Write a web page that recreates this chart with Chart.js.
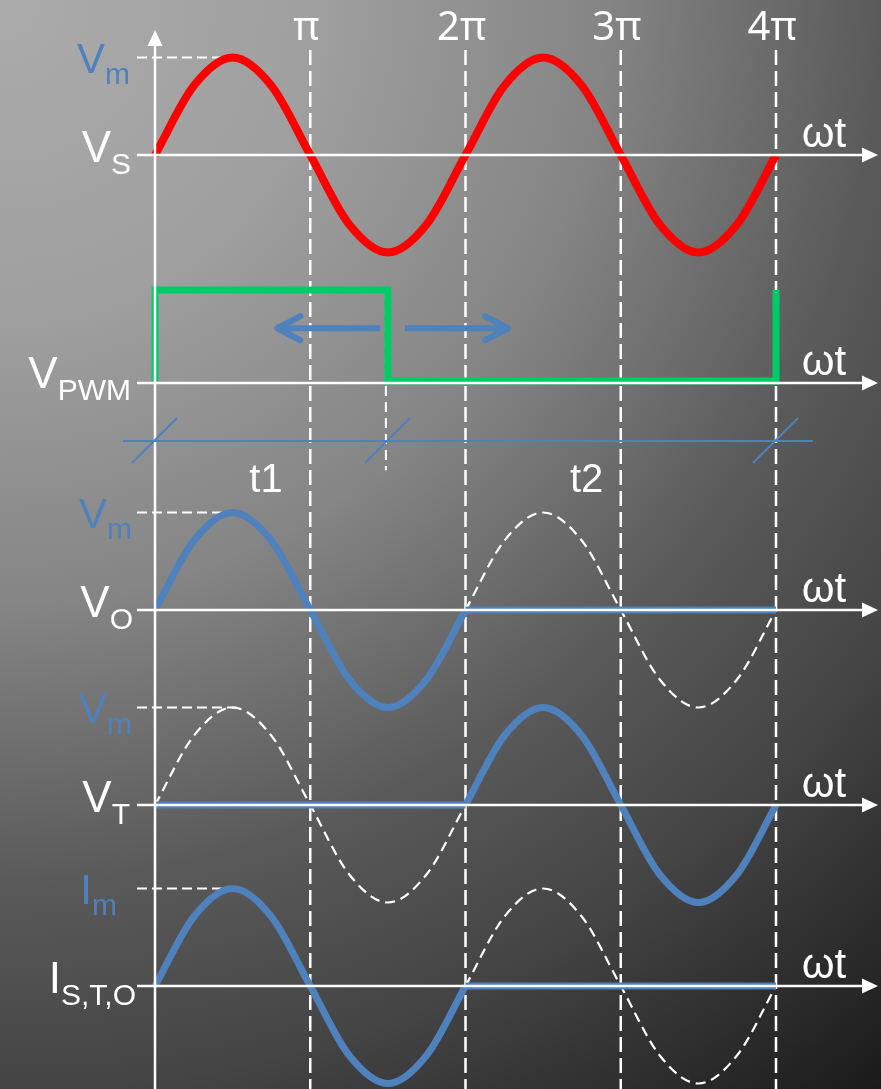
<!DOCTYPE html>
<html>
<head>
<meta charset="utf-8">
<style>
  html, body { margin: 0; padding: 0; background: #333; }
  canvas { display: block; }
</style>
<script src="https://cdn.jsdelivr.net/npm/chart.js@4.4.1/dist/chart.umd.min.js"></script>
</head>
<body>
<canvas id="chart" width="881" height="1089"></canvas>
<script>
// angle ωt, in units of π
const phase = [0, 0.25, 0.5, 0.75, 1, 1.25, 1.5, 1.75, 2, 2.25, 2.5, 2.75, 3, 3.25, 3.5, 3.75, 4];

// waveforms, normalised to the peak value (Vm / Im = 1)
const vSupply   = [0, 0.71, 1, 0.71, 0, -0.71, -1, -0.71, 0, 0.71, 1, 0.71, 0, -0.71, -1, -0.71, 0];
const vOutOn    = [0, 0.71, 1, 0.71, 0, -0.71, -1, -0.71, 0, null, null, null, null, null, null, null, null];
const vOutOff   = [null, null, null, null, null, null, null, null, 0, 0, 0, 0, 0, 0, 0, 0, 0];
const vOutGhost = [null, null, null, null, null, null, null, null, 0, 0.71, 1, 0.71, 0, -0.71, -1, -0.71, 0];
const vThyOff   = [0, 0, 0, 0, 0, 0, 0, 0, 0, null, null, null, null, null, null, null, null];
const vThyOn    = [null, null, null, null, null, null, null, null, 0, 0.71, 1, 0.71, 0, -0.71, -1, -0.71, 0];
const vThyGhost = [0, 0.71, 1, 0.71, 0, -0.71, -1, -0.71, 0, null, null, null, null, null, null, null, null];
const iOn       = [0, 0.71, 1, 0.71, 0, -0.71, -1, -0.71, 0, null, null, null, null, null, null, null, null];
const iOff      = [null, null, null, null, null, null, null, null, 0, 0, 0, 0, 0, 0, 0, 0, 0];
const iGhost    = [null, null, null, null, null, null, null, null, 0, 0.71, 1, 0.71, 0, -0.71, -1, -0.71, 0];

// PWM gate signal
const pwmPhase = [0, 0, 1.5, 1.5, 4, 4];
const pwmLevel = [0, 1, 1, 0, 0, 1];

// peak guide (dashed Vm / Im line)
const guidePhase = [-0.116, 0.56];
const guideLevel = [1, 1];

// x tick labels and timing marks
const piTicks  = [1, 2, 3, 4];
const piLabels = ['π', '2π', '3π', '4π'];
const tMarks   = [0, 1.5, 4];
const tLabels  = ['t1', 't2'];
const tLabelAt = [0.715, 2.78];

const BLUE = '#4f81bd';
const WHITE = '#ffffff';
const FONT = '"Liberation Sans", Arial, sans-serif';

// panel layout: baseline pixel and pixels per unit
const panels = {
  ys: { base: 155, unit: 97.5 },
  yp: { base: 381, unit: 91 },
  yo: { base: 610, unit: 97.5 },
  yt: { base: 805, unit: 97.5 },
  yi: { base: 986, unit: 97.5 }
};
const H = 1089, W = 881, X0 = 155, PX_PER_PI = 155.25;

function pts(xs, ys) {
  return xs.map((x, i) => ({ x: x, y: ys[i] })).filter(p => p.y !== null);
}

function wave(ys, axis, color, width) {
  return {
    data: pts(phase, ys), yAxisID: axis, borderColor: color, borderWidth: width,
    cubicInterpolationMode: 'monotone', pointRadius: 0, fill: false
  };
}
function flat(ys, axis) {
  return { data: pts(phase, ys), yAxisID: axis, borderColor: BLUE, borderWidth: 7, pointRadius: 0, fill: false };
}
function ghost(ys, axis) {
  return {
    data: pts(phase, ys), yAxisID: axis, borderColor: WHITE, borderWidth: 2.2, borderDash: [10, 6],
    cubicInterpolationMode: 'monotone', pointRadius: 0, fill: false
  };
}
function guide(axis) {
  return {
    data: pts(guidePhase, guideLevel), yAxisID: axis, borderColor: WHITE, borderWidth: 2.2,
    borderDash: [10, 5], pointRadius: 0, fill: false
  };
}

const datasets = [
  wave(vSupply, 'ys', '#ff0000', 8),
  {
    data: pts(pwmPhase, pwmLevel), yAxisID: 'yp', borderColor: '#00cc66', borderWidth: 7,
    borderJoinStyle: 'miter', pointRadius: 0, fill: false
  },
  wave(vOutOn, 'yo', BLUE, 7), flat(vOutOff, 'yo'),
  wave(vThyOn, 'yt', BLUE, 7), flat(vThyOff, 'yt'),
  wave(iOn, 'yi', BLUE, 7), flat(iOff, 'yi'),
  ghost(vOutGhost, 'yo'), ghost(vThyGhost, 'yt'), ghost(iGhost, 'yi'),
  guide('ys'), guide('yo'), guide('yt'), guide('yi')
];

const scales = {
  x: { type: 'linear', display: false, min: -X0 / PX_PER_PI, max: (W - X0) / PX_PER_PI }
};
Object.keys(panels).forEach(id => {
  const p = panels[id];
  scales[id] = { type: 'linear', axis: 'y', display: false, min: -(H - p.base) / p.unit, max: p.base / p.unit };
});

function seg(ctx, x0, y0, x1, y1) {
  ctx.beginPath(); ctx.moveTo(x0, y0); ctx.lineTo(x1, y1); ctx.stroke();
}

function label(ctx, main, sub, right, baseMain, baseSub, mainSize, subSize, color) {
  ctx.fillStyle = color;
  ctx.textAlign = 'left';
  ctx.font = subSize + 'px ' + FONT;
  const subW = ctx.measureText(sub).width;
  ctx.font = mainSize + 'px ' + FONT;
  const mainW = ctx.measureText(main).width;
  ctx.fillText(main, right - subW - mainW, baseMain);
  ctx.font = subSize + 'px ' + FONT;
  ctx.fillText(sub, right - subW, baseSub);
}

const axisLabels = [
  { axis: 'ys', main: 'V', sub: 'S', right: 131 },
  { axis: 'yp', main: 'V', sub: 'PWM', right: 131 },
  { axis: 'yo', main: 'V', sub: 'O', right: 133 },
  { axis: 'yt', main: 'V', sub: 'T', right: 130 },
  { axis: 'yi', main: 'I', sub: 'S,T,O', right: 136 }
];
const peakLabels = [
  { axis: 'ys', main: 'V', sub: 'm', right: 130 },
  { axis: 'yo', main: 'V', sub: 'm', right: 132 },
  { axis: 'yt', main: 'V', sub: 'm', right: 132 },
  { axis: 'yi', main: 'I', sub: 'm', right: 117 }
];

const diagram = {
  id: 'diagram',
  beforeDraw(chart) {
    const ctx = chart.ctx;
    const g = ctx.createRadialGradient(0, 0, 0, 0, 0, Math.hypot(W, H));
    g.addColorStop(0, '#ababab');
    g.addColorStop(0.22, '#a0a0a0');
    g.addColorStop(0.43, '#858585');
    g.addColorStop(0.63, '#5a5a5a');
    g.addColorStop(0.78, '#444444');
    g.addColorStop(1, '#1a1a1a');
    ctx.save();
    ctx.fillStyle = g;
    ctx.fillRect(0, 0, W, H);
    ctx.restore();
  },
  beforeDatasetsDraw(chart) {
    const ctx = chart.ctx, x = chart.scales.x, yp = chart.scales.yp;
    ctx.save();
    ctx.strokeStyle = WHITE;
    ctx.lineWidth = 2.5;
    ctx.setLineDash([15, 6]);
    piTicks.forEach(v => {
      const px = x.getPixelForValue(v);
      seg(ctx, px, 50, px, H);
    });
    // switching instant of the PWM signal
    ctx.lineWidth = 2;
    ctx.setLineDash([10, 6]);
    const sx = x.getPixelForValue(pwmPhase[2]) - 2;
    seg(ctx, sx, yp.getPixelForValue(1), sx, yp.getPixelForValue(-0.98));
    ctx.restore();
  },
  afterDatasetsDraw(chart) {
    const ctx = chart.ctx, x = chart.scales.x, yp = chart.scales.yp;
    const ox = x.getPixelForValue(0);
    ctx.save();
    ctx.strokeStyle = WHITE;
    ctx.fillStyle = WHITE;
    ctx.lineWidth = 2.5;

    // vertical axis with arrow
    seg(ctx, ox, H, ox, 44);
    ctx.beginPath();
    ctx.moveTo(ox, 30); ctx.lineTo(ox - 7.5, 46); ctx.lineTo(ox + 7.5, 46); ctx.closePath(); ctx.fill();

    // horizontal axes with arrows and ωt
    Object.keys(panels).forEach(id => {
      let py = chart.scales[id].getPixelForValue(0);
      if (id === 'yp') py += 2;
      ctx.strokeStyle = WHITE;
      ctx.fillStyle = WHITE;
      seg(ctx, 137, py, 864, py);
      ctx.beginPath();
      ctx.moveTo(878, py); ctx.lineTo(862, py - 7.5); ctx.lineTo(862, py + 7.5); ctx.closePath(); ctx.fill();
      ctx.font = '42px ' + FONT;
      ctx.textAlign = 'center';
      ctx.fillText('ωt', 824, py - 8);
    });

    // π tick labels on top
    ctx.font = '40px "Noto Sans", "DejaVu Sans", sans-serif';
    ctx.textAlign = 'center';
    piTicks.forEach((v, i) => {
      ctx.fillText(piLabels[i], x.getPixelForValue(v) - 4, 40);
    });

    // axis names
    axisLabels.forEach(l => {
      const py = chart.scales[l.axis].getPixelForValue(0);
      label(ctx, l.main, l.sub, l.right, py + 7, py + 19, 44, 30, WHITE);
    });
    peakLabels.forEach(l => {
      const py = chart.scales[l.axis].getPixelForValue(1);
      label(ctx, l.main, l.sub, l.right, py + 15, py + 26, 42, 30, BLUE);
    });

    // timing line t1 / t2
    const ty = yp.getPixelForValue(-0.66);
    ctx.strokeStyle = BLUE;
    ctx.lineWidth = 2;
    seg(ctx, x.getPixelForValue(-0.206), ty, x.getPixelForValue(4.238), ty);
    tMarks.forEach(v => {
      const px = x.getPixelForValue(v);
      seg(ctx, px - 23, ty + 22, px + 22, ty - 23);
    });
    ctx.fillStyle = WHITE;
    ctx.font = '40px ' + FONT;
    ctx.textAlign = 'center';
    tLabels.forEach((t, i) => ctx.fillText(t, x.getPixelForValue(tLabelAt[i]), ty + 51));

    // duty-cycle arrows
    const ay = yp.getPixelForValue(0.58);
    ctx.strokeStyle = BLUE;
    ctx.lineWidth = 6;
    ctx.lineJoin = 'round';
    const l0 = x.getPixelForValue(1.45), l1 = x.getPixelForValue(0.788);
    const r0 = x.getPixelForValue(1.61), r1 = x.getPixelForValue(2.275);
    ctx.lineCap = 'butt';
    seg(ctx, l0, ay, l1 + 3, ay);
    seg(ctx, r0, ay, r1 - 3, ay);
    ctx.lineCap = 'round';
    ctx.beginPath(); ctx.moveTo(l1 + 23, ay - 12); ctx.lineTo(l1, ay); ctx.lineTo(l1 + 23, ay + 12); ctx.stroke();
    ctx.beginPath(); ctx.moveTo(r1 - 23, ay - 12); ctx.lineTo(r1, ay); ctx.lineTo(r1 - 23, ay + 12); ctx.stroke();
    ctx.restore();
  }
};

new Chart(document.getElementById('chart'), {
  type: 'line',
  data: { datasets: datasets },
  options: {
    responsive: false,
    animation: false,
    events: [],
    layout: { padding: 0 },
    plugins: { legend: { display: false }, tooltip: { enabled: false } },
    scales: scales
  },
  plugins: [diagram]
});
</script>
</body>
</html>
